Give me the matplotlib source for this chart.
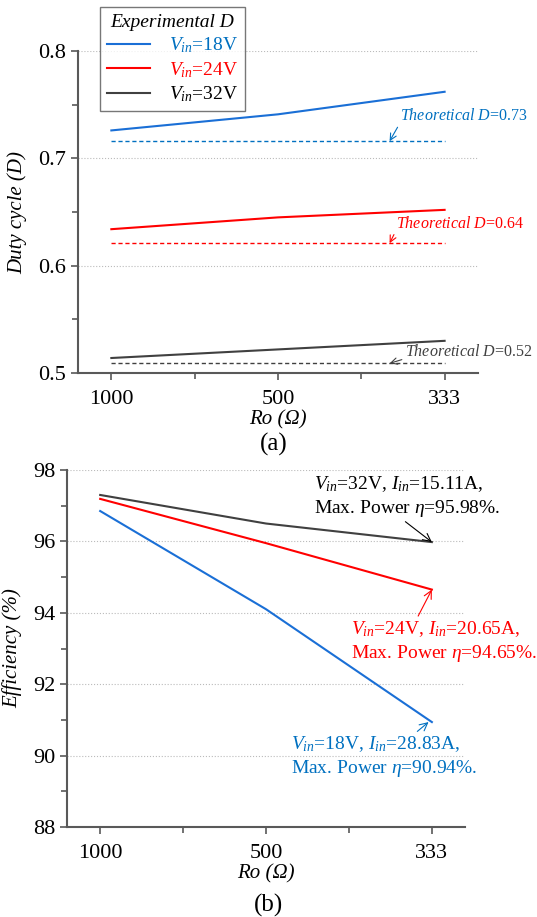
import matplotlib
matplotlib.use("Agg")
import matplotlib.pyplot as plt
from matplotlib.ticker import MultipleLocator

plt.rcParams['font.family'] = ['Liberation Serif', 'DejaVu Serif']
plt.rcParams['mathtext.fontset'] = 'custom'
plt.rcParams['mathtext.rm'] = 'Liberation Serif'
plt.rcParams['mathtext.it'] = 'Liberation Serif:italic'

x_labels = ['1000', '500', '333']
x_pos = [0, 1, 2]

# Duty cycle (a)
d_18 = [0.726, 0.741, 0.762]
d_24 = [0.634, 0.645, 0.652]
d_32 = [0.514, 0.522, 0.530]
theo_18, theo_24, theo_32 = 0.716, 0.621, 0.509

# Efficiency (b)
eff_18 = [96.85, 94.10, 90.94]
eff_24 = [97.19, 95.95, 94.65]
eff_32 = [97.30, 96.50, 95.98]

c_blue = '#0070C0'
c_blue_line = '#1a6fd6'
c_red = '#FF0000'
c_blk = '#404040'
spine_c = '#595959'

fig = plt.figure(figsize=(5.37, 9.17), dpi=100)

def style(ax):
    for s in ['top', 'right']:
        ax.spines[s].set_visible(False)
    for s in ['left', 'bottom']:
        ax.spines[s].set_color(spine_c)
        ax.spines[s].set_linewidth(1.5)
    ax.tick_params(which='both', direction='out', color=spine_c, width=1.2, labelsize=16)
    ax.tick_params(which='major', length=5)
    ax.tick_params(which='minor', length=4)
    ax.tick_params(axis='x', which='major', pad=7)
    ax.set_xticks(x_pos)
    ax.set_xticklabels(x_labels)
    ax.xaxis.set_minor_locator(MultipleLocator(0.5))
    ax.set_xlim(-0.2, 2.2)
    ax.grid(axis='y', which='major', linestyle=':', color='#bbbbbb', linewidth=0.8)
    ax.set_axisbelow(True)

# ---- (a)
ax1 = fig.add_axes([0.1453, 0.5932, 0.7447, 0.3512])
style(ax1)
ax1.plot(x_pos, d_18, color=c_blue_line, lw=1.5, label=r'$V_{in}$=18V')
ax1.plot(x_pos, d_24, color=c_red, lw=1.5, label=r'$V_{in}$=24V')
ax1.plot(x_pos, d_32, color=c_blk, lw=1.5, label=r'$V_{in}$=32V')
ax1.plot([0, 2], [theo_18] * 2, color=c_blue, lw=1, ls=(0, (3, 2)))
ax1.plot([0, 2], [theo_24] * 2, color=c_red, lw=1, ls=(0, (3, 2)))
ax1.plot([0, 2], [theo_32] * 2, color=c_blk, lw=1, ls=(0, (3, 2)))
ax1.set_ylim(0.5, 0.8)
ax1.yaxis.set_minor_locator(MultipleLocator(0.05))
ax1.set_yticks([0.5, 0.6, 0.7, 0.8])
ax1.set_yticklabels(['0.5', '0.6', '0.7', '0.8'])
ax1.set_ylabel('Duty cycle (D)', fontsize=15, style='italic', labelpad=8)
ax1.set_xlabel('Ro (Ω)', fontsize=15, style='italic', labelpad=1)

for val, col, lab, tx, ty in [(theo_18, c_blue, '0.73', 1.73, 0.739),
                              (theo_24, c_red, '0.64', 1.707, 0.639),
                              (theo_32, c_blk, '0.52', 1.76, 0.520)]:
    ax1.annotate(r'$Theoretical\ D$=' + lab, xy=(1.67, val), xytext=(tx, ty),
                 color=col, fontsize=11.5, va='center', ha='left',
                 arrowprops=dict(arrowstyle='->', color=col, lw=0.8, shrinkA=0, shrinkB=0,
                                 relpos=(0.0, 0.05)))

leg = ax1.legend(loc='upper left', bbox_to_anchor=(100 / 537, 1 - 7 / 917),
                 bbox_transform=fig.transFigure, fontsize=14, title='Experimental D',
                 title_fontproperties={'size': 14, 'style': 'italic'},
                 frameon=True, fancybox=False, edgecolor='#555555', handlelength=2.2,
                 borderpad=0.35, labelspacing=0.25, handletextpad=1.0, borderaxespad=0)
leg.get_frame().set_linewidth(1.0)
for t, c in zip(leg.get_texts(), [c_blue, c_red, 'black']):
    t.set_color(c)
fig.text(0.5 + 5 / 537, 1 - 444 / 917, '(a)', fontsize=18, ha='center', va='center')

# ---- (b)
ax2 = fig.add_axes([0.1248, 0.0981, 0.7412, 0.3894])
style(ax2)
ax2.plot(x_pos, eff_18, color=c_blue_line, lw=1.5)
ax2.plot(x_pos, eff_24, color=c_red, lw=1.5)
ax2.plot(x_pos, eff_32, color=c_blk, lw=1.5)
ax2.set_ylim(88, 98)
ax2.yaxis.set_major_locator(MultipleLocator(2))
ax2.yaxis.set_minor_locator(MultipleLocator(1))
ax2.set_ylabel('Efficiency (%)', fontsize=15, style='italic', labelpad=8)
ax2.set_xlabel('Ro (Ω)', fontsize=15, style='italic', labelpad=1)

ax2.annotate(r'$V_{in}$=32V, $I_{in}$=15.11A,' + '\nMax. Power $η$=95.98%.',
             xy=(2.0, eff_32[2]), xytext=(1.29, 97.26), color='black', fontsize=14,
             ha='left', va='center', linespacing=1.28,
             arrowprops=dict(arrowstyle='->', color='black', lw=0.8, shrinkA=0, shrinkB=0,
                             relpos=(0.47, 0.0)))
ax2.annotate(r'$V_{in}$=24V, $I_{in}$=20.65A,' + '\nMax. Power $η$=94.65%.',
             xy=(2.0, eff_24[2]), xytext=(1.515, 93.2), color=c_red, fontsize=14,
             ha='left', va='center', linespacing=1.28,
             arrowprops=dict(arrowstyle='->', color=c_red, lw=0.8, shrinkA=0, shrinkB=0,
                             relpos=(0.35, 1.0)))
ax2.annotate(r'$V_{in}$=18V, $I_{in}$=28.83A,' + '\nMax. Power $η$=90.94%.',
             xy=(1.98, eff_18[2]), xytext=(1.15, 89.97), color=c_blue, fontsize=14,
             ha='left', va='center', linespacing=1.28,
             arrowprops=dict(arrowstyle='->', color=c_blue, lw=0.8, shrinkA=0, shrinkB=0,
                             relpos=(0.66, 1.0)))
fig.text(0.5 + 0 / 537, 1 - 905 / 917, '(b)', fontsize=18, ha='center', va='center')

fig.savefig('out.png', dpi=100)
